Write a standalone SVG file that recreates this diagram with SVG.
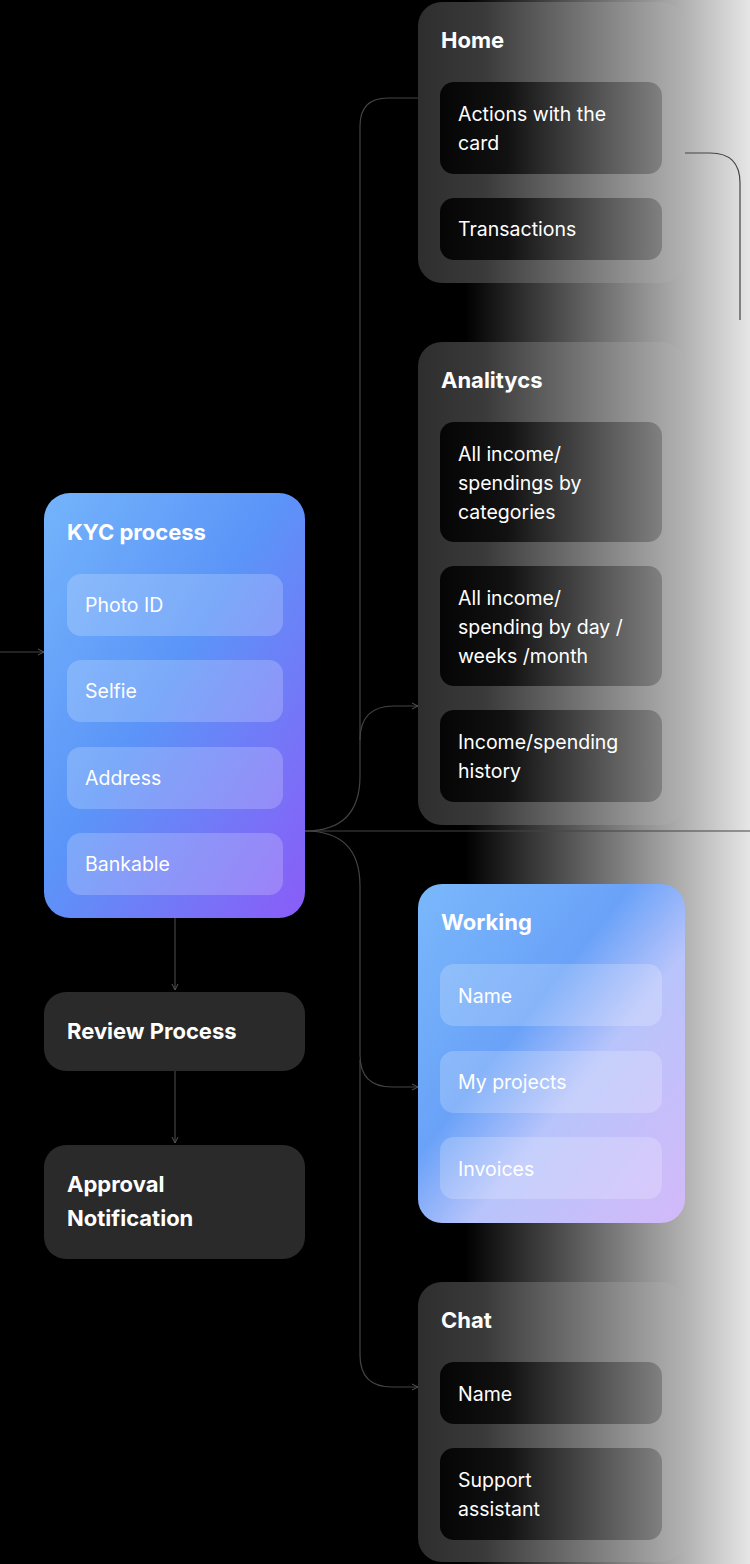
<svg xmlns="http://www.w3.org/2000/svg" width="750" height="1564" viewBox="0 0 750 1564">
<defs>
<linearGradient id="bg" x1="0" y1="0" x2="1" y2="0"><stop offset="0" stop-color="#000"/><stop offset="0.62" stop-color="#000"/><stop offset="1" stop-color="#e6e6e6"/></linearGradient>
<linearGradient id="cardg" gradientUnits="userSpaceOnUse" x1="418" y1="0" x2="685" y2="0"><stop offset="0" stop-color="#2e2e2e"/><stop offset="0.25" stop-color="#3a3a3a"/><stop offset="1" stop-color="#b2b2b2"/></linearGradient>
<linearGradient id="innerg" gradientUnits="userSpaceOnUse" x1="440" y1="0" x2="662" y2="0"><stop offset="0" stop-color="#050505"/><stop offset="0.3" stop-color="#111"/><stop offset="1" stop-color="#808080"/></linearGradient>
<linearGradient id="blue" x1="0" y1="0" x2="1" y2="1"><stop offset="0" stop-color="#74b4fb"/><stop offset="0.45" stop-color="#5b95f8"/><stop offset="1" stop-color="#8a5cf7"/></linearGradient>
<linearGradient id="work" x1="0" y1="0" x2="1" y2="1"><stop offset="0" stop-color="#7ab8fb"/><stop offset="0.4" stop-color="#6aa2f8"/><stop offset="0.6" stop-color="#b8c4fb"/><stop offset="1" stop-color="#d4b9f9"/></linearGradient>
<marker id="ar" viewBox="0 0 8 8" refX="7" refY="4" markerWidth="8" markerHeight="8" orient="auto" markerUnits="userSpaceOnUse"><path d="M1 1 L7 4 L1 7" fill="none" stroke="#555" stroke-width="1"/></marker>
</defs>
<style>
.card{fill:url(#cardg)}
.dark{fill:#2a2a2a}
.inner{fill:url(#innerg)}
.lite{fill:#fff;fill-opacity:0.2}
.t{font-family:Inter,"Liberation Sans",sans-serif;font-weight:700;font-size:22px;fill:#fff}
.s{font-family:Inter,"Liberation Sans",sans-serif;font-size:19.5px;fill:#fff}
.c{fill:none;stroke:#444;stroke-width:1.2}
</style>
<rect width="750" height="1564" fill="url(#bg)"/>
<g id="connectors">
<path class="c" d="M0 652 H44" marker-end="url(#ar)"/>
<path class="c" d="M305 831 H750"/>
<path class="c" d="M305 831 Q360 831 360 776 V126 Q360 98 388 98 H418"/>
<path class="c" d="M360 740 Q360 706 394 706 H418" marker-end="url(#ar)"/>
<path class="c" d="M305 831 Q360 831 360 886 V1055 Q360 1087 392 1087 H418" marker-end="url(#ar)"/>
<path class="c" d="M360 1060 V1355 Q360 1387 392 1387 H418" marker-end="url(#ar)"/>
<path class="c" d="M685 153 H710 Q740 153 740 183 V320" stroke="#ccc"/>
<path class="c" d="M175 918 V990" marker-end="url(#ar)"/>
<path class="c" d="M175 1071 V1143" marker-end="url(#ar)"/>
</g>
<g id="home"><rect class="card" x="418" y="2" width="267" height="281" rx="24"/>
<text class="t" x="441" y="48">Home</text>
<rect class="inner" x="440" y="82" width="222" height="92" rx="14"/><text class="s" x="458" y="121">Actions with the</text><text class="s" x="458" y="150">card</text>
<rect class="inner" x="440" y="198" width="222" height="62" rx="14"/><text class="s" x="458" y="236">Transactions</text></g>
<g id="analytics"><rect class="card" x="418" y="342" width="267" height="483" rx="24"/>
<text class="t" x="441" y="388">Analitycs</text>
<rect class="inner" x="440" y="422" width="222" height="120" rx="14"/><text class="s" x="458" y="461">All income/</text><text class="s" x="458" y="490">spendings by</text><text class="s" x="458" y="519">categories</text>
<rect class="inner" x="440" y="566" width="222" height="120" rx="14"/><text class="s" x="458" y="605">All  income/</text><text class="s" x="458" y="634">spending by day /</text><text class="s" x="458" y="663">weeks /month</text>
<rect class="inner" x="440" y="710" width="222" height="92" rx="14"/><text class="s" x="458" y="749">Income/spending</text><text class="s" x="458" y="778">history</text></g>
<g id="kyc"><rect x="44" y="493" width="261" height="425" rx="26" fill="url(#blue)"/>
<text class="t" x="67" y="540">KYC process</text>
<rect class="lite" x="67" y="574" width="216" height="62" rx="14"/><text class="s" x="85" y="612">Photo ID</text>
<rect class="lite" x="67" y="660" width="216" height="62" rx="14"/><text class="s" x="85" y="698">Selfie</text>
<rect class="lite" x="67" y="747" width="216" height="62" rx="14"/><text class="s" x="85" y="785">Address</text>
<rect class="lite" x="67" y="833" width="216" height="62" rx="14"/><text class="s" x="85" y="871">Bankable</text></g>
<g id="review"><rect class="dark" x="44" y="992" width="261" height="79" rx="22"/><text class="t" x="67" y="1039">Review Process</text></g>
<g id="approval"><rect class="dark" x="44" y="1145" width="261" height="114" rx="22"/><text class="t" x="67" y="1192">Approval</text><text class="t" x="67" y="1226">Notification</text></g>
<g id="working"><rect x="418" y="884" width="267" height="339" rx="24" fill="url(#work)"/>
<text class="t" x="441" y="930">Working</text>
<rect class="lite" x="440" y="964" width="222" height="62" rx="14"/><text class="s" x="458" y="1003">Name</text>
<rect class="lite" x="440" y="1051" width="222" height="62" rx="14"/><text class="s" x="458" y="1089">My projects</text>
<rect class="lite" x="440" y="1137" width="222" height="62" rx="14"/><text class="s" x="458" y="1176">Invoices</text></g>
<g id="chat"><rect class="card" x="418" y="1282" width="267" height="280" rx="24"/>
<text class="t" x="441" y="1328">Chat</text>
<rect class="inner" x="440" y="1362" width="222" height="62" rx="14"/><text class="s" x="458" y="1401">Name</text>
<rect class="inner" x="440" y="1448" width="222" height="92" rx="14"/><text class="s" x="458" y="1487">Support</text><text class="s" x="458" y="1516">assistant</text></g>
</svg>
